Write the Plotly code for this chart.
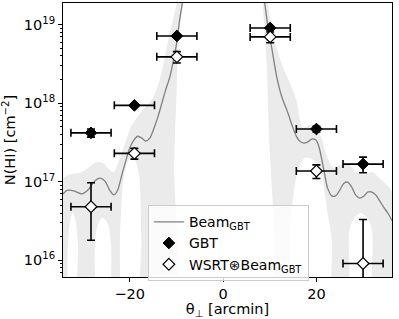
import plotly.graph_objects as go

# ---- data ----
pos_x = [-28.3, -19.0, -9.9, 10.1, 20.0, 30.0]
pos_xerr = [4.3, 4.3, 4.3, 4.3, 4.3, 4.3]

gbt_y = [4.2e17, 9.4e17, 7.2e18, 9.1e18, 4.7e17, 1.68e17]
gbt_yerr = [0.5e17, 0.3e17, 0.3e18, 0.3e18, 0.4e17, 0.38e17]

wsrt_y = [4.8e16, 2.3e17, 3.9e18, 7.0e18, 1.37e17, 9.1e15]
wsrt_yerr_plus = [4.9e16, 0.36e17, 0.65e18, 1.1e18, 0.27e17, 2.4e16]
wsrt_yerr_minus = [3.0e16, 0.36e17, 0.65e18, 1.1e18, 0.27e17, 9.05e15]

beam_x = [-34.3, -33.3, -31.8, -30.3, -29.0, -27.5, -26.4, -25.3, -24.3, -23.4,
          -22.6, -21.7, -20.8, -20.0, -19.1, -18.3, -17.4, -16.6, -15.7, -14.8,
          -13.9, -13.1, -12.3, -11.4, -10.6, -9.9, -9.3, -8.7, -7.5, 0.5,
          7.5, 8.9, 9.6, 10.4, 11.5, 12.6, 13.9, 14.9, 15.8, 16.4,
          17.3, 18.1, 19.0, 19.9, 20.5, 21.1, 21.8, 22.4, 23.3, 24.1,
          25.0, 25.9, 26.7, 27.6, 28.4, 29.3, 30.2, 31.0, 31.9, 32.7,
          33.5, 34.4, 35.3, 36.2]
beam_y = [7.0e16, 7.8e16, 7.6e16, 7.0e16, 7.8e16, 1.02e17, 1.11e17, 1.02e17, 7.8e16, 6.8e16,
          7.8e16, 1.22e17, 1.89e17, 2.7e17, 3.4e17, 3.8e17, 3.6e17, 3.3e17, 3.6e17, 4.8e17,
          6.9e17, 1.01e18, 1.48e18, 2.17e18, 3.6e18, 6.1e18, 1.16e19, 1.91e19, 5e19, 2e20,
          5e19, 1.91e19, 9.4e18, 5.2e18, 2.17e18, 1.2e18, 7.5e17, 5.0e17, 3.7e17, 3.3e17,
          3.1e17, 3.2e17, 3.5e17, 3.4e17, 2.85e17, 2.0e17, 1.22e17, 8.3e16, 6.6e16, 6.6e16,
          7.8e16, 9.6e16, 9.9e16, 8.5e16, 6.8e16, 6.2e16, 6.6e16, 7.4e16, 7.4e16, 6.8e16,
          5.8e16, 4.75e16, 4.0e16, 3.2e16]

# left half of the shaded band: upper edge (left->right), lower edge (left->right)
bandL_hi_x = [-34.3, -32.8, -30.7, -29.0, -27.1, -25.8, -24.3, -23.4, -22.1, -20.4,
              -19.8, -18.5, -17.2, -15.3, -13.9, -12.9, -11.4, -9.9, -8.0]
bandL_hi_y = [1.11e17, 1.25e17, 1.3e17, 1.49e17, 1.78e17, 1.73e17, 1.41e17, 1.33e17, 2.0e17, 3.9e17,
              5.0e17, 6.5e17, 8.2e17, 1.1e18, 1.71e18, 2.9e18, 7.9e18, 1.91e19, 1e20]
bandL_lo_x = [-34.3, -33.7, -33.3, -32.8, -32.2, -31.6, -31.1, -30.8, -27.9, -27.5,
              -26.9, -25.8, -24.7, -24.0, -23.6, -22.6, -22.1, -21.5, -20.6, -19.8,
              -18.9, -18.0, -17.5, -17.2, -10.8, -10.5, -10.3, -10.0, -9.8, -9.4,
              -8.6, -7.5]
bandL_lo_y = [1e15, 1e15, 1.34e16, 3.1e16, 4.1e16, 3.2e16, 1.55e16, 1e15, 1e15, 1.34e16,
              2.8e16, 3.5e16, 2.9e16, 1.55e16, 1e15, 1e15, 1.8e16, 9.1e16, 1.73e17, 2.0e17,
              1.89e17, 1.22e17, 1.8e16, 1e15, 1e15, 1.54e17, 4.2e17, 1.1e18, 2.9e18, 7.9e18,
              1.91e19, 1e20]

# right half of the shaded band
bandR_hi_x = [8.0, 9.6, 10.6, 12.8, 14.3, 15.7, 17.1, 18.6, 19.9, 21.1,
              22.4, 23.7, 25.0, 26.7, 28.4, 30.2, 31.9, 33.5, 36.2]
bandR_hi_y = [1e20, 1.91e19, 7.9e18, 2.9e18, 1.82e18, 1.1e18, 4.9e17, 5.3e17, 5.1e17, 3.6e17,
              2.0e17, 1.49e17, 1.63e17, 1.73e17, 1.33e17, 1.22e17, 1.33e17, 1.11e17, 7.4e16]
bandR_lo_x = [7.5, 8.5, 8.9, 9.4, 9.6, 9.8, 10.2, 10.6, 11.0, 11.3,
              13.9, 14.3, 15.4, 16.4, 17.5, 18.6, 19.9, 21.1, 22.4, 23.3,
              23.7, 26.5, 27.1, 28.2, 29.5, 30.8, 31.9, 32.5, 36.2]
bandR_lo_y = [1e20, 1.91e19, 7.9e18, 2.9e18, 1.1e18, 4.2e17, 1.5e17, 6.0e16, 2.0e16, 1e15,
              1e15, 2.4e16, 9.1e16, 1.63e17, 2.0e17, 2.0e17, 1.78e17, 1.22e17, 4.0e16, 1.8e16,
              1e15, 1e15, 2.4e16, 3.5e16, 4.0e16, 3.5e16, 2.4e16, 1e15, 1e15]

y_tick_vals = [1e16, 1e17, 1e18, 1e19]
y_tick_text = ["10<sup>16</sup>", "10<sup>17</sup>", "10<sup>18</sup>", "10<sup>19</sup>"]
x_tick_vals = [-20, 0, 20]

FONT = "DejaVu Sans"
BAND = "#ebebeb"

fig = go.Figure()

for hx, hy, lx, ly in [(bandL_hi_x, bandL_hi_y, bandL_lo_x, bandL_lo_y),
                       (bandR_hi_x, bandR_hi_y, bandR_lo_x, bandR_lo_y)]:
    fig.add_trace(go.Scatter(
        x=hx + lx[::-1], y=hy + ly[::-1],
        fill="toself", fillcolor=BAND,
        line=dict(width=0, color=BAND, shape="spline", smoothing=0.8),
        mode="lines", hoverinfo="skip", showlegend=False))

fig.add_trace(go.Scatter(
    x=beam_x, y=beam_y, mode="lines",
    line=dict(color="#808080", width=1.3, shape="spline", smoothing=0.8),
    name="Beam<sub>GBT</sub>"))

fig.add_trace(go.Scatter(
    x=pos_x, y=gbt_y, mode="markers", name="GBT",
    marker=dict(symbol="diamond", size=9, color="black",
                line=dict(color="black", width=1)),
    error_x=dict(type="data", array=pos_xerr, color="black", thickness=1.6, width=4),
    error_y=dict(type="data", array=gbt_yerr, color="black", thickness=1.6, width=4)))

fig.add_trace(go.Scatter(
    x=pos_x, y=wsrt_y, mode="markers", name="WSRT⊛Beam<sub>GBT</sub>",
    marker=dict(symbol="diamond", size=9, color="white",
                line=dict(color="black", width=1.2)),
    error_x=dict(type="data", array=pos_xerr, color="black", thickness=1.6, width=4),
    error_y=dict(type="data", symmetric=False, array=wsrt_yerr_plus,
                 arrayminus=wsrt_yerr_minus, color="black", thickness=1.6, width=4)))

axis_common = dict(showline=True, mirror=True, linecolor="black", linewidth=1,
                   ticks="outside", ticklen=4, tickcolor="black", showgrid=False,
                   zeroline=False, automargin=False, showspikes=False,
                   tickfont=dict(family=FONT, size=14.5, color="black"))

fig.update_layout(
    width=399, height=319,
    margin=dict(l=63, r=7, t=3, b=42),
    paper_bgcolor="white", plot_bgcolor="white",
    font=dict(family=FONT, size=14.5, color="black"),
    hovermode=False,
    xaxis=dict(range=[-34.3, 36.2], tickvals=x_tick_vals,
               title=dict(text="θ<sub>⊥</sub> [arcmin]", standoff=0,
                          font=dict(family=FONT, size=14.5)),
               **axis_common),
    yaxis=dict(type="log", range=[15.787, 19.277], tickvals=y_tick_vals,
               ticktext=y_tick_text,
               minor=dict(ticks="outside", ticklen=2, tickcolor="black", dtick="D1",
                          showgrid=False),
               title=dict(text="N(HI) [cm<sup>−2</sup>]", standoff=4,
                          font=dict(family=FONT, size=14.5)),
               **axis_common),
    legend=dict(x=0.258, y=0.262, xanchor="left", yanchor="top",
                bgcolor="rgba(255,255,255,0.8)", bordercolor="#cccccc", borderwidth=1,
                font=dict(family=FONT, size=14), tracegroupgap=0),
    showlegend=True,
)

fig.write_html("out.html",
               config={"displayModeBar": False, "staticPlot": True},
               post_script="document.body.style.margin='0';document.body.style.padding='0';")
